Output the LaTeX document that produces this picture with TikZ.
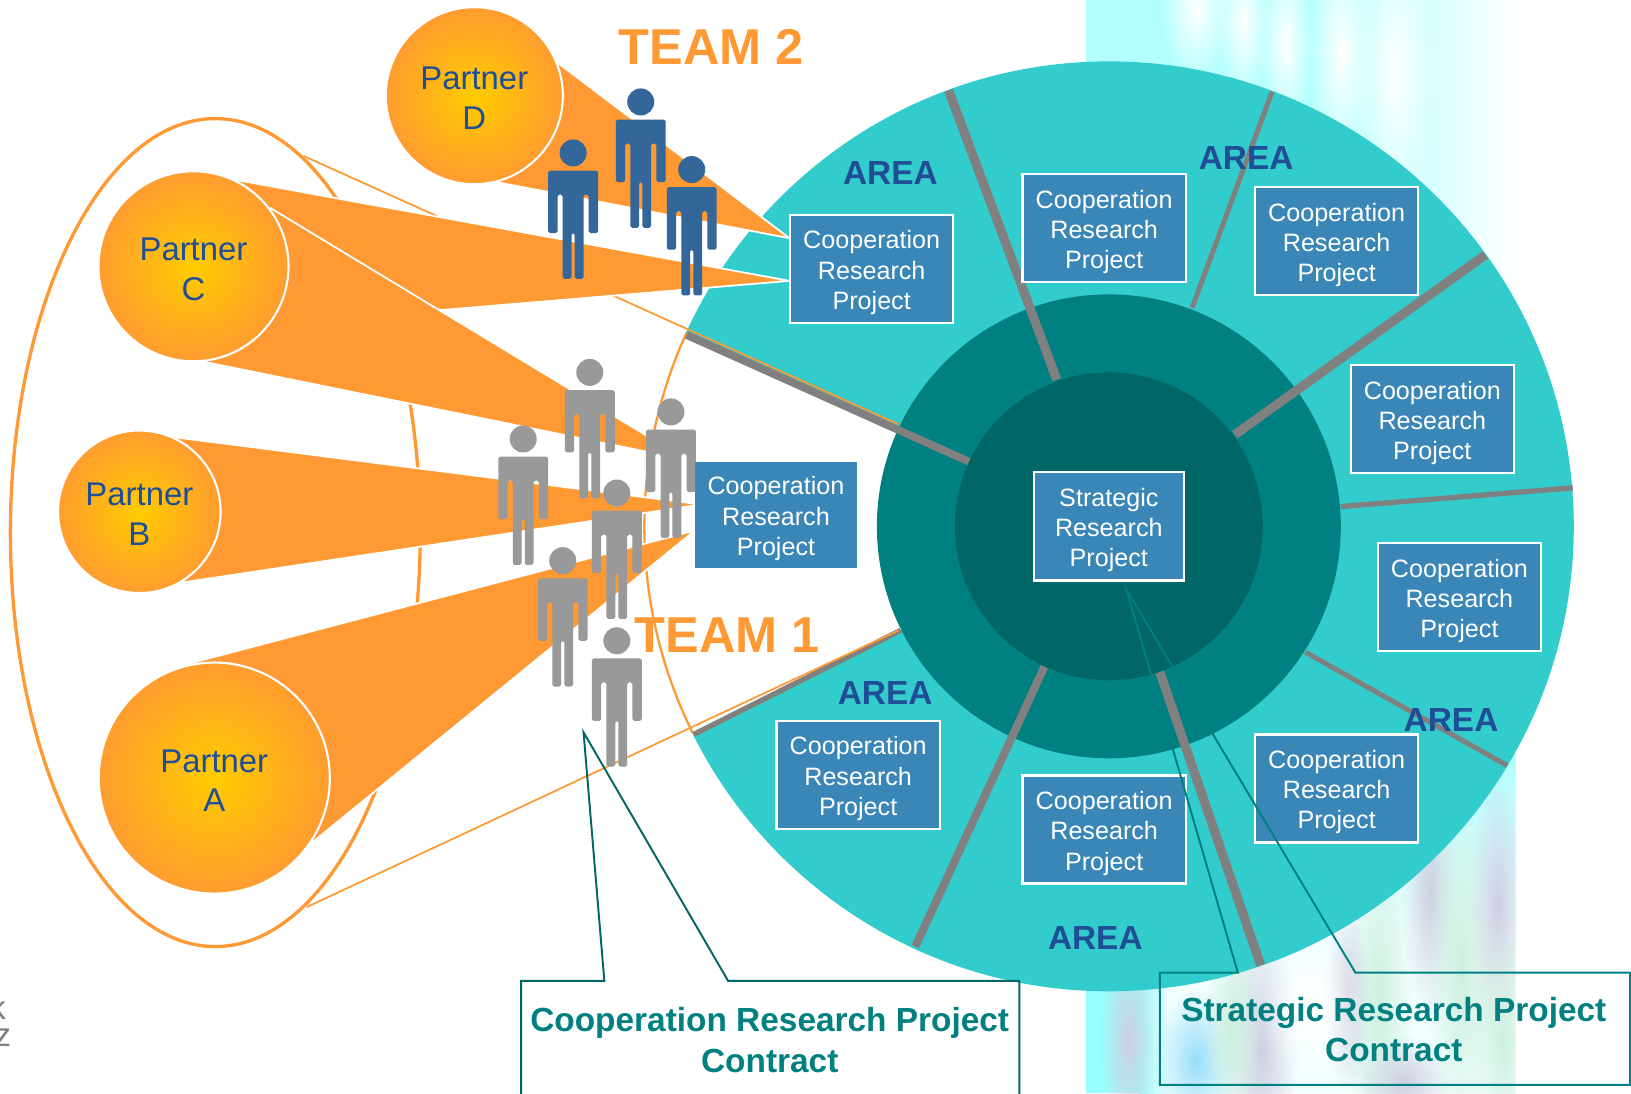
\documentclass[tikz,border=0pt]{standalone}
\usepackage{fontspec}
\setmainfont{Liberation Sans}
\usepackage{tikz}
\usetikzlibrary{calc}
\usetikzlibrary{fadings}
\definecolor{ringlight}{HTML}{33CCCC}
\definecolor{ringmid}{HTML}{008080}
\definecolor{ringdark}{HTML}{006666}
\definecolor{spokegray}{HTML}{808080}
\definecolor{boxblue}{HTML}{3A87B7}
\definecolor{partnerorange}{HTML}{FF9933}
\definecolor{partnergold}{HTML}{FFCC00}
\definecolor{labelblue}{HTML}{1F4E96}
\definecolor{personblue}{HTML}{336699}
\definecolor{persongray}{HTML}{999999}
\definecolor{washcyan}{HTML}{A6FFFF}
\definecolor{washlilac}{HTML}{CFCFE2}
\definecolor{washgreen}{HTML}{CDF0DE}
\pgfdeclareradialshading{partnerglow}{\pgfpoint{0bp}{0bp}}{color(0bp)=(partnergold); color(27bp)=(partnerorange); color(50bp)=(partnerorange)}
\tikzfading[name=softblob,inner color=transparent!0,outer color=transparent!100]
\tikzset{
    project/.style={draw=white,line width=1.3pt,fill=boxblue,text=white,align=center,
        minimum width=3.26cm,minimum height=2.16cm,inner sep=0pt,text height=49pt,
        font=\fontsize{14.3}{17.2}\selectfont},
    partner/.style={circle,draw=white,line width=1.2pt,shading=partnerglow,text=labelblue,align=center,
        inner sep=0pt,text height=38.6pt,font=\fontsize{18.7}{22.7}\selectfont},
    cone/.style={fill=partnerorange,draw=white,line width=1pt,line join=round},
    spoke/.style={draw=spokegray,line width=#1},
    area/.style={text=labelblue,font=\bfseries\fontsize{19}{22}\selectfont},
    team/.style={text=partnerorange,font=\bfseries\fontsize{28.7}{32}\selectfont},
    contract/.style={text=ringmid,align=center,font=\bfseries\fontsize{19}{23}\selectfont},
    callout/.style={draw=#1,line width=1.1pt,line join=miter},
    outline/.style={draw=partnerorange,line width=#1},
    streak/.style={fill=#1,path fading=softblob},
    cutletter/.style={text=gray,anchor=east,inner sep=0pt,font=\fontsize{19}{22}\selectfont},
    pics/person/.style={code={
        \fill[#1] (0,0) circle (13);
        \fill[#1,rounded corners=1pt] (-24,17) -- (24,17) -- (24,77) -- (15,77) -- (15,40) -- (10,40)
            -- (10,121) -- (1.5,121) -- (1.5,77) -- (-1.5,77) -- (-1.5,121) -- (-10,121) -- (-10,40)
            -- (-15,40) -- (-15,77) -- (-24,77) -- cycle;
    }}
}
\begin{document}
\begin{tikzpicture}[x=0.0208cm,y=-0.0208cm]
    \useasboundingbox (0,0) rectangle (1568,1051);
    % painted strip behind the rings
    \begin{scope}
    \clip (1044,0) rectangle (1457,1051);
    \fill[washcyan!85] (1044,0) rectangle (1300,420);
    \shade[left color=washcyan!85,right color=white] (1300,0) rectangle (1457,420);
    \path[streak=white] (1150,10) ellipse [x radius=34,y radius=70];
    \path[streak=white] (1195,20) ellipse [x radius=26,y radius=80];
    \path[streak=white] (1236,40) ellipse [x radius=26,y radius=90];
    \path[streak=white] (1290,50) ellipse [x radius=34,y radius=130];
    \path[streak=white] (1340,70) ellipse [x radius=40,y radius=160];
    \shade[top color=washcyan,bottom color=white!85!washcyan] (1044,700) rectangle (1457,900);
    \fill[white!85!washcyan] (1044,900) rectangle (1457,1051);
    \fill[washcyan!80!cyan!85] (1044,930) rectangle (1095,1051);
    \shade[left color=washcyan!80!cyan!85,right color=white!85!washcyan] (1095,930) rectangle (1125,1051);
    \path[streak=cyan!40] (1150,1020) ellipse [x radius=40,y radius=70];
    \path[streak=washlilac] (1085,1000) ellipse [x radius=28,y radius=110];
    \path[streak=washlilac] (1212,1010) ellipse [x radius=36,y radius=130];
    \path[streak=washgreen] (1185,990) ellipse [x radius=28,y radius=100];
    \path[streak=washgreen] (1325,960) ellipse [x radius=34,y radius=170];
    \path[streak=washlilac] (1295,960) ellipse [x radius=22,y radius=90];
    \path[streak=washlilac] (1375,860) ellipse [x radius=28,y radius=120];
    \path[streak=washgreen] (1405,930) ellipse [x radius=34,y radius=180];
    \path[streak=washlilac] (1440,870) ellipse [x radius=28,y radius=130];
    \path[streak=washgreen] (1445,1000) ellipse [x radius=30,y radius=110];
    \path[streak=washlilac] (1350,1040) ellipse [x radius=45,y radius=45];
    \path[streak=white] (1262,970) ellipse [x radius=50,y radius=75];
    \end{scope}

    % rings
    \coordinate (hub) at (1066,506);
    \fill[ringlight] (hub) circle (447);
    \coordinate (gapTop) at (660,320);
    \coordinate (gapBottom) at (665,705);
    \fill[white] (hub) -- (gapTop) arc[start angle=-155.4,end angle=-206.4,radius=447] -- cycle;
    \draw[outline=1.3pt] (gapTop) arc[start angle=-155.4,end angle=-206.4,radius=447];
    \fill[ringmid] (hub) circle (223);
    \draw[spoke=5.2pt] (912,87) -- (1016,365);
    \draw[spoke=2.8pt] (1223,88) -- (1146,296);
    \draw[spoke=5.2pt] (1428,245) -- (1187,418);
    \draw[spoke=3pt] (1512,469) -- (1289,487);
    \draw[spoke=2.8pt] (1449,736) -- (1255,627);
    \draw[spoke=5.2pt] (1212,928) -- (1115,646);
    \draw[spoke=4.6pt] (880,910) -- (1004,641);
    \draw[spoke=4.4pt] (660,322) -- (932,444);
    \draw[spoke=3pt] (667,706) -- (866,606);
    \fill[ringdark] (hub) circle (148);

    % team outline
    \draw[outline=1.9pt] (207,512) ellipse [x radius=197,y radius=398];
    \draw[outline=1pt] (292,150) -- (864,408);
    \draw[outline=1pt] (295,872) -- (864,606);

    \filldraw[cone] (537,61) -- (759,229) -- (477,175) -- cycle;
    \filldraw[cone] (227,173) -- (759,270) -- (425,298) -- (186,256) -- cycle;
    \filldraw[cone] (260,200) -- (660,442) -- (197,348) -- cycle;
    \filldraw[cone] (165,420) -- (674,485) -- (175,560) -- cycle;
    \filldraw[cone] (170,641) -- (668,510) -- (300,810) -- cycle;

    \node[partner,minimum size=3.54cm] (partnerD) at (456,92) {Partner\\D};
    \node[partner,minimum size=3.8cm] (partnerC) at (186,256) {Partner\\C};
    \node[partner,minimum size=3.25cm] (partnerB) at (134,492) {Partner\\B};
    \node[partner,minimum size=4.62cm] (partnerA) at (206,748) {Partner\\A};

    \pic at (616,98) {person=personblue};
    \pic at (551,147) {person=personblue};
    \pic at (665,163) {person=personblue};
    \pic at (567,358) {person=persongray};
    \pic at (645,396) {person=persongray};
    \pic at (503,422) {person=persongray};
    \pic at (593,474) {person=persongray};
    \pic at (541,539) {person=persongray};
    \pic at (593,616) {person=persongray};

    \node[project] (projA) at (838,258.5) {Cooperation\\Research\\Project};
    \node[project] (projB) at (1061.5,219.5) {Cooperation\\Research\\Project};
    \node[project] (projC) at (1285,232) {Cooperation\\Research\\Project};
    \node[project] (projD) at (1377,403) {Cooperation\\Research\\Project};
    \node[project] (projE) at (1403,574) {Cooperation\\Research\\Project};
    \node[project] (projF) at (1285,758) {Cooperation\\Research\\Project};
    \node[project] (projG) at (1061.5,797.5) {Cooperation\\Research\\Project};
    \node[project] (projH) at (825,745) {Cooperation\\Research\\Project};
    \node[project,draw=none,minimum width=3.25cm,minimum height=2.12cm] (projTeam) at (746,495) {Cooperation\\Research\\Project};
    \node[project,minimum width=3cm] (strategic) at (1066,506) {Strategic\\Research\\Project};

    \node[area] (areaA) at (856,166) {AREA};
    \node[area] (areaB) at (1198,152) {AREA};
    \node[area] (areaC) at (851,666) {AREA};
    \node[area] (areaD) at (1395,692) {AREA};
    \node[area] (areaE) at (1053,902) {AREA};
    \node[team] (teamTwo) at (684,45) {TEAM 2};
    \node[team] (teamOne) at (699,611) {TEAM 1};

    % contract call-outs
    \draw[callout=ringdark] (501,1052) -- (501,943) -- (581,943) -- (561,704) -- (700,943) -- (980,943) -- (980,1052);
    \draw[callout=ringmid] (1115,1043) -- (1115,935) -- (1190,935) -- (1083,567) -- (1303,935) -- (1567,935) -- (1567,1043) -- cycle;
    \node[contract] (coopContract) at (740,1000) {Cooperation Research Project\\Contract};
    \node[contract] (stratContract) at (1340,990) {Strategic Research Project\\Contract};

    % cut-off letters at the left edge
    \node[cutletter] (cutK) at (6,968) {k};
    \node[cutletter] (cutZ) at (11,998) {z};
\end{tikzpicture}
\end{document}
